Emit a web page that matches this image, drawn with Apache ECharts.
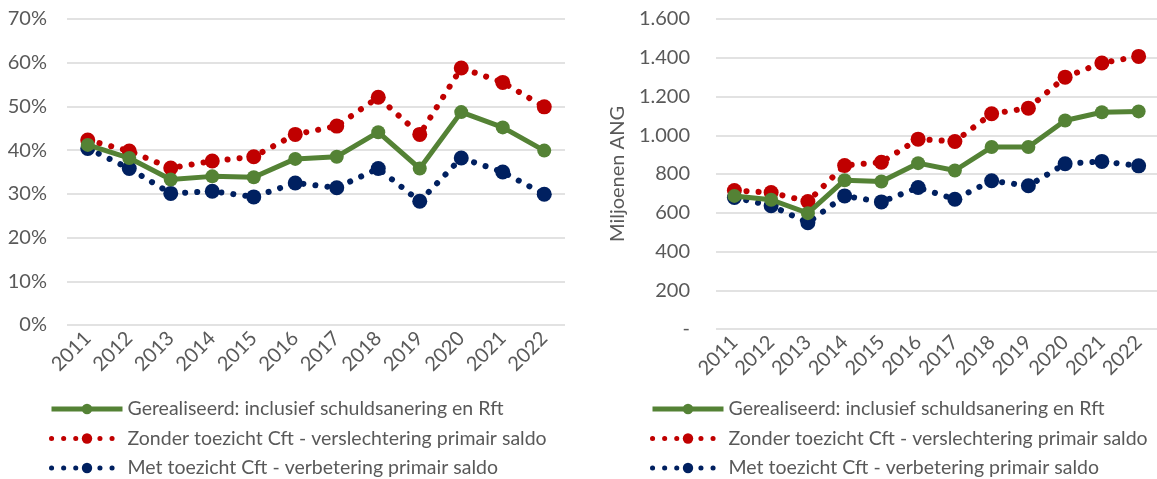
<!DOCTYPE html>
<html>
<head>
<meta charset="utf-8">
<script src="https://cdn.jsdelivr.net/npm/echarts@6/dist/echarts.min.js"></script>
<style>
	html, body { margin: 0; padding: 0; background: #fff; overflow: hidden; }
	#chart { width: 1157px; height: 479px; }
</style>
</head>
<body>
<div id="chart"></div>
<script>
'use strict';
var years = ['2011', '2012', '2013', '2014', '2015', '2016', '2017', '2018', '2019', '2020', '2021', '2022'];
var seriesNames = [
	'Gerealiseerd: inclusief schuldsanering en Rft',
	'Zonder toezicht Cft - verslechtering primair saldo',
	'Met toezicht Cft - verbetering primair saldo'
];

// left panel, percentage
var pctRealised = [41.2, 38.2, 33.3, 34.0, 33.8, 38.0, 38.5, 44.1, 35.8, 48.7, 45.2, 39.9];
var pctWithout = [42.3, 39.8, 35.9, 37.5, 38.5, 43.6, 45.5, 52.1, 43.6, 58.8, 55.5, 49.9];
var pctWith = [40.4, 35.8, 30.1, 30.6, 29.3, 32.5, 31.4, 35.8, 28.3, 38.2, 35.0, 29.9];

// right panel, miljoenen ANG
var angRealised = [687, 667, 598, 768, 761, 856, 818, 939, 939, 1076, 1119, 1123];
var angWithout = [715, 704, 658, 844, 861, 980, 968, 1111, 1140, 1300, 1373, 1407];
var angWith = [679, 636, 549, 687, 656, 730, 670, 765, 739, 853, 865, 842];

var GREEN = '#548235', RED = '#C00000', BLUE = '#002060', TEXT = '#595959';
var FONT = 'Lato';
var FS = 20;

function solid(name, data, idx) {
	return {
		name: name, type: 'line', xAxisIndex: idx, yAxisIndex: idx,
		data: data, symbol: 'circle', symbolSize: 14,
		itemStyle: { color: GREEN },
		lineStyle: { color: GREEN, width: 5 },
		z: 3
	};
}
function dotted(name, data, idx, color) {
	return {
		name: name, type: 'line', xAxisIndex: idx, yAxisIndex: idx,
		data: data, symbol: 'circle', symbolSize: 15,
		itemStyle: { color: color },
		lineStyle: { color: color, width: 6, type: [0.1, 12], cap: 'round' },
		z: 2
	};
}
function xAx(idx) {
	return {
		type: 'category', gridIndex: idx, data: years, boundaryGap: true,
		axisLine: { show: false }, axisTick: { show: false },
		axisLabel: { rotate: 45, color: TEXT, fontFamily: FONT, fontSize: FS, margin: 10, interval: 0 }
	};
}
function legend(left, top) {
	return {
		orient: 'vertical', left: left, top: top, height: 100, padding: 0,
		itemWidth: 71, itemHeight: 13, itemGap: 9.5,
		data: seriesNames,
		lineStyle: { width: 5 },
		textStyle: { color: TEXT, fontFamily: FONT, fontSize: 19.5 }
	};
}

var chart = echarts.init(document.getElementById('chart'));
chart.setOption({
	animation: false,
	textStyle: { fontFamily: FONT },
	grid: [
		{ left: 67, top: 19, width: 498, height: 306 },
		{ left: 716, top: 19, width: 450, height: 310 }
	],
	legend: [legend(49, 399), legend(650, 399)],
	xAxis: [xAx(0), xAx(1)],
	yAxis: [{
		type: 'value', gridIndex: 0, min: 0, max: 70, interval: 10,
		axisLabel: { formatter: '{value}%', color: TEXT, fontFamily: FONT, fontSize: FS, margin: 20 },
		splitLine: { lineStyle: { color: '#D9D9D9', width: 1.5 } }
	}, {
		type: 'value', gridIndex: 1, min: 0, max: 1600, interval: 200,
		name: 'Miljoenen ANG', nameLocation: 'middle', nameGap: 88,
		nameTextStyle: { color: TEXT, fontFamily: FONT, fontSize: FS },
		axisLabel: {
			color: TEXT, fontFamily: FONT, fontSize: FS, margin: 26,
			formatter: function (v) { return v === 0 ? '-' : String(v).replace(/\B(?=(\d{3})+(?!\d))/g, '.'); }
		},
		splitLine: { lineStyle: { color: '#D9D9D9', width: 1.5 } }
	}],
	series: [
		solid(seriesNames[0], pctRealised, 0),
		dotted(seriesNames[1], pctWithout, 0, RED),
		dotted(seriesNames[2], pctWith, 0, BLUE),
		solid(seriesNames[0], angRealised, 1),
		dotted(seriesNames[1], angWithout, 1, RED),
		dotted(seriesNames[2], angWith, 1, BLUE)
	]
});
</script>
</body>
</html>
